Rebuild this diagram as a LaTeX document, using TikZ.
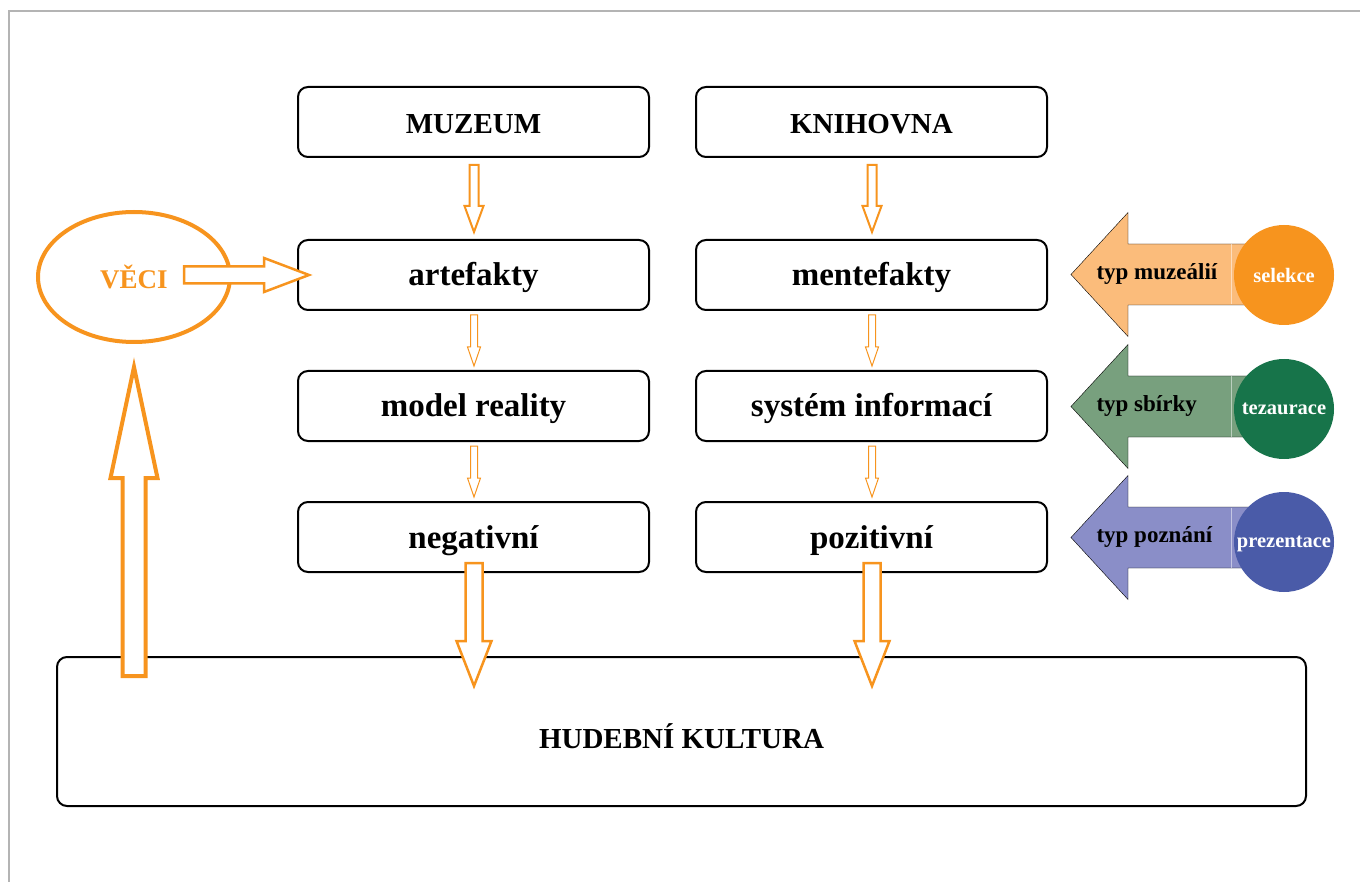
\documentclass[tikz,border=0pt]{standalone}
\usepackage{fontspec}
\setmainfont{Liberation Serif}
\usepackage{tikz}
\usetikzlibrary{calc,positioning,shapes.geometric}

\definecolor{oranz}{HTML}{F7941E}
\definecolor{oranzsv}{HTML}{FBBC7B}
\definecolor{zelena}{HTML}{17744A}
\definecolor{zelenasv}{HTML}{78A07E}
\definecolor{modra}{HTML}{4A5BA8}
\definecolor{modrasv}{HTML}{8A8EC8}
\definecolor{ramec}{HTML}{B4B4B4}

\tikzset{
	box/.style={draw,line width=2pt,rounded corners=10pt,minimum width=351pt,minimum height=70pt,text height=27pt,text depth=5pt,font=\fontsize{33}{36}\selectfont\bfseries},
	capbox/.style={box,text height=25pt,text depth=2pt,font=\fontsize{29}{32}\selectfont\bfseries},
	hollow/.style={draw=oranz,fill=white,line width=#1,line join=miter},
	kruh/.style={circle,minimum size=100pt,inner sep=0pt,text depth=0pt,text=white,font=\fontsize{20.5}{22}\selectfont\bfseries},
	typ/.style={anchor=base west,font=\fontsize{23}{25}\selectfont\bfseries},
}

% block arrow: [style]{from}{to}{half shaft}{half head}{head length}
\newcommand{\blokSipka}[6][]{%
	\draw[#1] let \p1=($(#3)!#6!(#2)$) in
		($(#2)!#4!90:(#3)$) -- ($(\p1)!#4!90:(#3)$) -- ($(\p1)!#5!90:(#3)$) -- (#3)
		-- ($(\p1)!#5!-90:(#3)$) -- ($(\p1)!#4!-90:(#3)$) -- ($(#2)!#4!-90:(#3)$) -- cycle;}

\begin{document}
\begin{tikzpicture}[x=1pt,y=-1pt]
	\useasboundingbox (0,0) rectangle (1360,882);
	\draw[ramec,line width=1.5pt] (9,882) -- (9,11) -- (1360,11);

	\node[capbox] (muzeum) at (473.5,122) {MUZEUM};
	\node[capbox] (knihovna) at (871.5,122) {KNIHOVNA};
	\node[box] (artefakty) at (473.5,275) {artefakty};
	\node[box] (mentefakty) at (871.5,275) {mentefakty};
	\node[box] (model) at (473.5,406) {model reality};
	\node[box] (system) at (871.5,406) {systém informací};
	\node[box] (negativni) at (473.5,537) {negativní};
	\node[box] (pozitivni) at (871.5,537) {pozitivní};
	\node[capbox,minimum width=1249pt,minimum height=149pt,text height=35pt] (kultura) at (681.5,731.5) {HUDEBNÍ KULTURA};

	\node[ellipse,draw=oranz,line width=4pt,minimum width=192pt,minimum height=130pt,text=oranz,font=\fontsize{27}{30}\selectfont\bfseries] (veci) at (134,277) {VĚCI};

	% sipky mezi boxy
	\foreach \a/\b in {muzeum/artefakty,knihovna/mentefakty} {
		\coordinate (z) at ($(\a.south)+(0.5,7)$);
		\coordinate (k) at ($(\b.north)+(0.5,-7)$);
		\blokSipka[hollow=2pt]{z}{k}{4.5pt}{9.5pt}{26pt}
	}
	\foreach \a/\b in {artefakty/model,model/negativni,mentefakty/system,system/pozitivni} {
		\coordinate (z) at ($(\a.south)+(0.5,4)$);
		\coordinate (k) at ($(\b.north)+(0.5,-4)$);
		\blokSipka[hollow=1pt]{z}{k}{3.5pt}{6.5pt}{19pt}
	}
	\foreach \a in {negativni,pozitivni} {
		\coordinate (z) at ($(\a.south)+(0.5,-10)$);
		\coordinate (k) at ($(\a.south|-kultura.north)+(0.5,30)$);
		\blokSipka[hollow=2.5pt]{z}{k}{8.5pt}{17.5pt}{45pt}
	}

	% VECI
	\coordinate (v1) at ($(veci.center)+(50,-2)$);
	\coordinate (v2) at ($(artefakty.west)+(12,0)$);
	\blokSipka[hollow=2.5pt]{v1}{v2}{8.5pt}{17pt}{45pt}
	\coordinate (h1) at ($(veci.south|-kultura.north)+(0,20)$);
	\coordinate (h2) at ($(veci.south)+(0,23)$);
	\blokSipka[hollow=4pt]{h1}{h2}{11.5pt}{23.5pt}{111pt}

	% vpravo
	\foreach \kr/\barva/\svetla/\popis/\ya/\yk in {selekce/oranz/oranzsv/typ muzeálií/274.5/275,tezaurace/zelena/zelenasv/typ sbírky/406.5/409,prezentace/modra/modrasv/typ poznání/537.5/542} {
		\coordinate (s) at (1284,\ya);
		\coordinate (t) at (1071,\ya);
		\blokSipka[fill=\svetla]{s}{t}{30.5pt}{62pt}{57pt}
		\draw[white,opacity=.5] ($(s)+(-53,-30)$) -- ($(s)+(-53,30)$);
		\node[typ] at ($(t)+(22,5)$) {\popis};
		\node[kruh,fill=\barva] (\kr) at (1284,\yk) {\kr};
	}
\end{tikzpicture}
\end{document}
